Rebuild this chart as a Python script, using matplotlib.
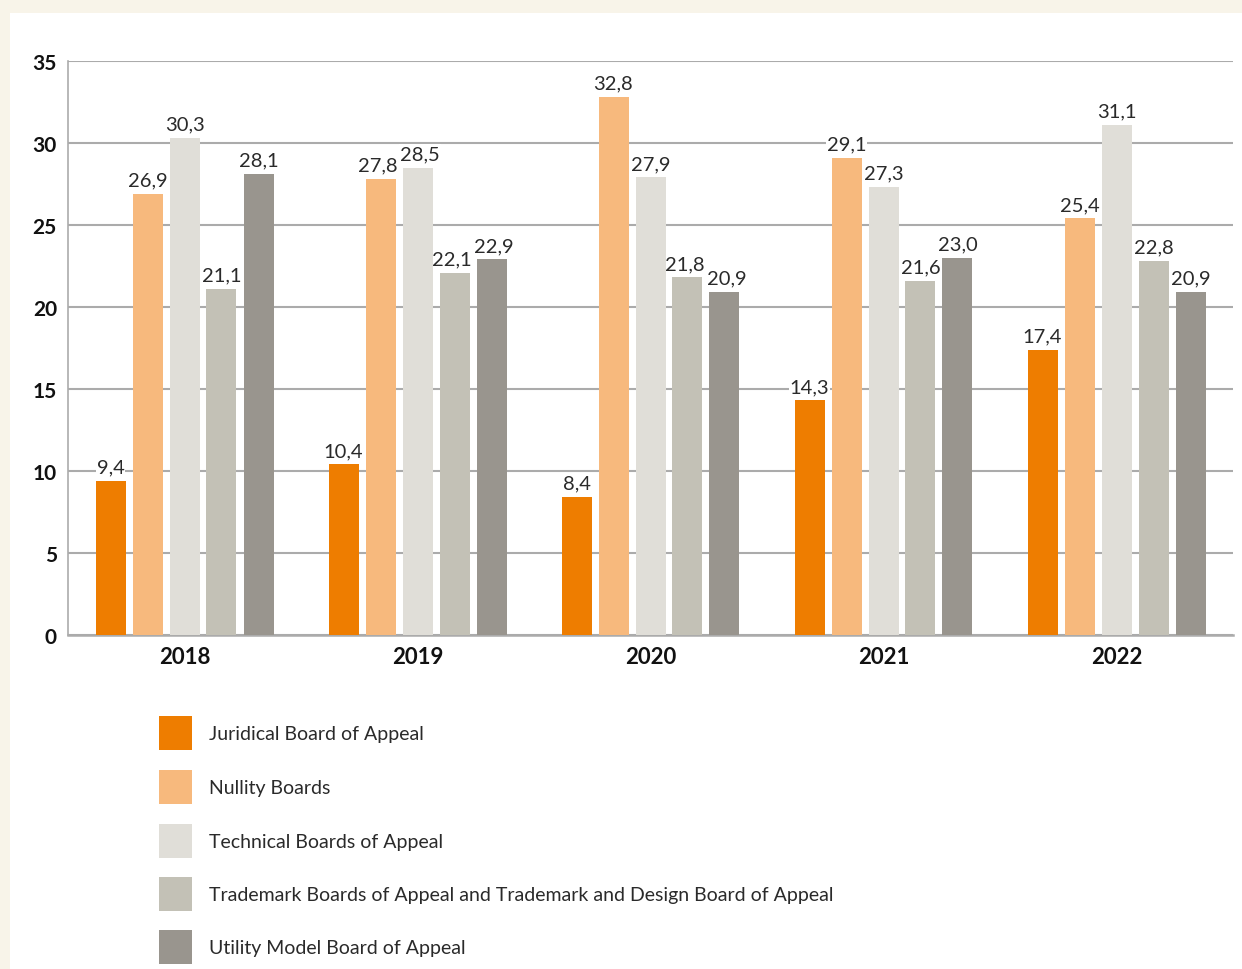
import matplotlib
matplotlib.use("Agg")
import matplotlib.pyplot as plt
from matplotlib.patches import Rectangle
import numpy as np

years = ["2018", "2019", "2020", "2021", "2022"]
series_names = [
    "Juridical Board of Appeal",
    "Nullity Boards",
    "Technical Boards of Appeal",
    "Trademark Boards of Appeal and Trademark and Design Board of Appeal",
    "Utility Model Board of Appeal",
]
juridical = [9.4, 10.4, 8.4, 14.3, 17.4]
nullity = [26.9, 27.8, 32.8, 29.1, 25.4]
technical = [30.3, 28.5, 27.9, 27.3, 31.1]
trademark = [21.1, 22.1, 21.8, 21.6, 22.8]
utility = [28.1, 22.9, 20.9, 23.0, 20.9]
series_values = [juridical, nullity, technical, trademark, utility]
colors = ["#EE7D00", "#F7B97D", "#E0DED8", "#C3C1B6", "#99958E"]
yticks = [0, 5, 10, 15, 20, 25, 30, 35]

plt.rcParams['font.family'] = ['Lato', 'DejaVu Sans']

W, H = 1242, 970
fig = plt.figure(figsize=(W / 100, H / 100), dpi=100)
fig.patch.set_facecolor("#F8F4E9")
fig.add_artist(Rectangle((10 / W, 0), 1 - 10 / W, 1 - 14 / H, transform=fig.transFigure,
                         facecolor="white", edgecolor="none", zorder=0))

ax = fig.add_axes([68 / W, 1 - 636 / H, (1233 - 68) / W, (636 - 62) / H])
ax.set_facecolor("none")

x = np.arange(len(years)) + 0.5
pitch = 37 / 233
width = 30 / 233
labels = [[None] * len(series_values) for _ in years]
for i, (vals, col) in enumerate(zip(series_values, colors)):
    xs = x + (i - 2) * pitch
    ax.bar(xs, vals, width=width, color=col, zorder=3)
    for j, (xi, v) in enumerate(zip(xs, vals)):
        labels[j][i] = ax.annotate(f"{v:.1f}".replace(".", ","), (xi, v), xytext=(0, 4),
                                   textcoords="offset points", ha="center", va="bottom",
                                   fontsize=14.5, color="#2a2a2a", zorder=2.5,
                                   bbox=dict(boxstyle="square,pad=0.05", facecolor="white",
                                             edgecolor="none"))

ax.set_xlim(0, 5)
ax.set_ylim(0, 35)
ax.set_yticks(yticks)
ax.set_yticklabels([str(t) for t in yticks], fontsize=15, fontweight="bold", color="#111111")
ax.set_xticks(x)
ax.set_xticklabels(years, fontsize=16, fontweight="bold", color="#111111")
ax.tick_params(axis="both", length=0)
ax.tick_params(axis="y", pad=8)
ax.tick_params(axis="x", pad=8)
ax.yaxis.grid(True, color="#ABABAB", linewidth=1.5, zorder=1)
ax.set_axisbelow(True)
for s in ["top", "right"]:
    ax.spines[s].set_visible(False)
ax.spines["left"].set_color("#ABABAB")
ax.spines["left"].set_linewidth(1.2)
ax.spines["bottom"].set_color("#ABABAB")
ax.spines["bottom"].set_linewidth(1.8)

# nudge overlapping neighbouring labels apart
fig.canvas.draw()
renderer = fig.canvas.get_renderer()
for group in labels:
    for a, b in zip(group[:-1], group[1:]):
        ea = a.get_window_extent(renderer)
        eb = b.get_window_extent(renderer)
        overlap = ea.x1 - eb.x0
        if overlap > -1 and ea.y0 < eb.y1 and eb.y0 < ea.y1:
            shift = (overlap + 2) / 2 * 72 / fig.dpi
            ox, oy = a.xyann
            a.xyann = (ox - shift, oy)
            ox, oy = b.xyann
            b.xyann = (ox + shift, oy)

# Legend
row_y = [734, 788, 842, 895, 948]
for name, col, yy in zip(series_names, colors, row_y):
    fig.add_artist(Rectangle((159 / W, 1 - (yy + 17) / H), 33 / W, 34 / H,
                             transform=fig.transFigure, facecolor=col, edgecolor="none"))
    fig.text(209 / W, 1 - (yy + 1) / H, name, ha="left", va="center", fontsize=14, color="#2a2a2a")

fig.savefig("out.png", dpi=100, facecolor=fig.get_facecolor())
